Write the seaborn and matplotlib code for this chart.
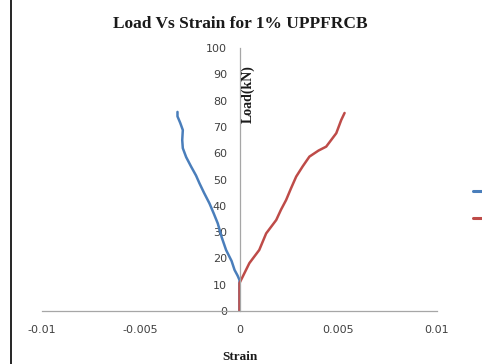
import matplotlib
matplotlib.use("Agg")
import matplotlib.pyplot as plt
import seaborn as sns
import pandas as pd
from matplotlib.lines import Line2D

# Data
blue_strain = [0.0, 0.0, -0.0001, -0.00025, -0.0004, -0.00068, -0.0009, -0.0011, -0.0013,
               -0.00152, -0.0018, -0.00203, -0.0022, -0.00245, -0.0027, -0.00287, -0.0029,
               -0.00287, -0.003, -0.00314, -0.00314]
blue_load = [0.0, 11.8, 13.5, 15.6, 19.0, 23.2, 28.0, 33.3, 37.0,
             40.9, 45.0, 48.6, 51.5, 54.9, 58.5, 61.9, 65.0,
             68.8, 71.5, 74.0, 75.7]
red_strain = [0.0, 0.0, 0.00025, 0.0005, 0.001, 0.00135, 0.00186, 0.0021, 0.00236,
              0.0026, 0.00287, 0.0032, 0.00354, 0.0040, 0.00439, 0.0049, 0.00515, 0.00532]
red_load = [0.0, 10.6, 14.4, 18.2, 23.2, 29.5, 34.6, 38.5, 42.2,
            46.5, 51.1, 55.0, 58.7, 61.0, 62.5, 67.6, 72.6, 75.3]
x_ticks = [-0.01, -0.005, 0, 0.005, 0.01]
x_tick_labels = ["-0.01", "-0.005", "0", "0.005", "0.01"]
y_ticks = [0, 10, 20, 30, 40, 50, 60, 70, 80, 90, 100]

blue_c = "#4A7EBB"
red_c = "#BE4B48"

sns.set_theme(style="white")
plt.rcParams['font.family'] = ['DejaVu Sans']

fig = plt.figure(figsize=(4.82, 3.64), dpi=100)
ax = fig.add_axes([42/482, 1-311/364, 395/482, 263/364])

df_b = pd.DataFrame({"strain": blue_strain, "load": blue_load})
df_r = pd.DataFrame({"strain": red_strain, "load": red_load})
sns.lineplot(data=df_b, x="strain", y="load", sort=False, estimator=None,
             color=blue_c, lw=1.8, ax=ax)
sns.lineplot(data=df_r, x="strain", y="load", sort=False, estimator=None,
             color=red_c, lw=1.8, ax=ax)

ax.set_xlim(-0.01, 0.01)
ax.set_ylim(0, 100)
ax.spines['left'].set_position(('data', 0))
for s in ['top', 'right']:
    ax.spines[s].set_visible(False)
for s in ['left', 'bottom']:
    ax.spines[s].set_color('#A6A6A6')
    ax.spines[s].set_linewidth(0.9)
ax.set_xticks(x_ticks)
ax.set_xticklabels(x_tick_labels)
ax.set_yticks(y_ticks)
ax.tick_params(axis='both', direction='out', length=3, width=0.8, color='#A6A6A6',
               labelsize=8, labelcolor='#404040', pad=6)
ax.tick_params(axis='x', pad=7)
ax.set_xlabel("")
ax.set_ylabel("")

fig.text(240/482, 1-24/364, "Load Vs Strain for 1% UPPFRCB", ha='center', va='center',
         fontsize=12.5, fontweight='bold', family=['Liberation Serif'], color='#1a1a1a')
fig.text(240/482, 1-357/364, "Strain", ha='center', va='center',
         fontsize=9.5, fontweight='bold', family=['Liberation Serif'], color='#1a1a1a')
fig.text(248/482, 1-94/364, "Load(kN)", ha='center', va='center', rotation=90,
         fontsize=10, fontweight='bold', family=['Liberation Serif'], color='#1a1a1a')

# black border line at left
fig.add_artist(Line2D([11/482, 11/482], [0, 1], color='black', lw=1.2,
                      transform=fig.transFigure))

# legend keys, cut off at the right edge (their labels fall outside the picture)
for yy, cc in [(191, blue_c), (218, red_c)]:
    fig.add_artist(Line2D([473/482, 1.0], [1-yy/364, 1-yy/364], color=cc, lw=2.2,
                          transform=fig.transFigure))

fig.savefig("out.png", dpi=100)
